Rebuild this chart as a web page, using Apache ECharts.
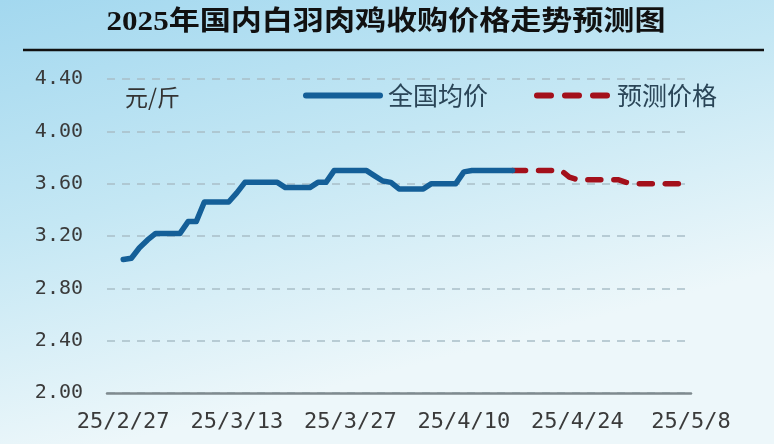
<!DOCTYPE html>
<html>
<head>
<meta charset="utf-8">
<script src="https://cdn.jsdelivr.net/npm/echarts@6/dist/echarts.min.js"></script>
<style>
html,body{margin:0;padding:0;}
#c{width:774px;height:444px;}
</style>
</head>
<body>
<div id="c"></div>
<script>
// ---- data ----
var titleText = '2025年国内白羽肉鸡收购价格走势预测图';
var unitText = '元/斤';
var seriesNames = ['全国均价', '预测价格'];
// daily categories 2025-02-25 .. 2025-05-08
var categories = [
  '25/2/25','25/2/26','25/2/27','25/2/28',
  '25/3/1','25/3/2','25/3/3','25/3/4','25/3/5','25/3/6','25/3/7','25/3/8','25/3/9','25/3/10',
  '25/3/11','25/3/12','25/3/13','25/3/14','25/3/15','25/3/16','25/3/17','25/3/18','25/3/19','25/3/20',
  '25/3/21','25/3/22','25/3/23','25/3/24','25/3/25','25/3/26','25/3/27','25/3/28','25/3/29','25/3/30','25/3/31',
  '25/4/1','25/4/2','25/4/3','25/4/4','25/4/5','25/4/6','25/4/7','25/4/8','25/4/9','25/4/10',
  '25/4/11','25/4/12','25/4/13','25/4/14','25/4/15','25/4/16','25/4/17','25/4/18','25/4/19','25/4/20',
  '25/4/21','25/4/22','25/4/23','25/4/24','25/4/25','25/4/26','25/4/27','25/4/28','25/4/29','25/4/30',
  '25/5/1','25/5/2','25/5/3','25/5/4','25/5/5','25/5/6','25/5/7','25/5/8'
];
var tickLabels = ['25/2/27','25/3/13','25/3/27','25/4/10','25/4/24','25/5/8'];
var actualValues = [
  null, null, 3.02, 3.03, 3.11, 3.17, 3.22, 3.22, 3.22, 3.22,
  3.31, 3.31, 3.46, 3.46, 3.46, 3.46, 3.53, 3.61, 3.61, 3.61,
  3.61, 3.61, 3.57, 3.57, 3.57, 3.57, 3.61, 3.61, 3.70, 3.70,
  3.70, 3.70, 3.70, 3.66, 3.62, 3.61, 3.56, 3.56, 3.56, 3.56,
  3.60, 3.60, 3.60, 3.60, 3.69, 3.70, 3.70, 3.70, 3.70, 3.70,
  3.70
];
var forecastValues = [
  null, null, null, null, null, null, null, null, null, null,
  null, null, null, null, null, null, null, null, null, null,
  null, null, null, null, null, null, null, null, null, null,
  null, null, null, null, null, null, null, null, null, null,
  null, null, null, null, null, null, null, null, null, null,
  3.70, 3.70, 3.70, 3.70, 3.70, 3.70, 3.70, 3.65, 3.63, 3.63,
  3.63, 3.63, 3.63, 3.63, 3.61, 3.60, 3.60, 3.60, 3.60, 3.60,
  3.60, 3.60, 3.60
];
var yTicks = {min: 2.0, max: 4.4, interval: 0.4};

// ---- chart ----
var chart = echarts.init(document.getElementById('c'));
var blue = '#145f98';
var red = '#a3101b';
var option = {
  backgroundColor: {
    type: 'linear', x: 0, y: 0, x2: 0.15, y2: 1,
    colorStops: [
      {offset: 0, color: '#a3d8ef'},
      {offset: 0.5, color: '#c4e7f4'},
      {offset: 1, color: '#edf7fa'}
    ]
  },
  animation: false,
  grid: {left: 107, right: 83, top: 79, bottom: 51},
  legend: {
    left: 298, top: 78,
    itemWidth: 80, itemHeight: 6, itemGap: 46,
    textStyle: {fontFamily: 'Noto Sans CJK SC', fontSize: 25, color: '#2a4557', padding: [0, 0, 0, 0]},
    data: [
      {name: seriesNames[0], icon: 'path://M3,0h74a3,3 0 0 1 0,6h-74a3,3 0 0 1 0,-6z'},
      {name: seriesNames[1], icon: 'path://M3,0h14a3,3 0 0 1 0,6h-14a3,3 0 0 1 0,-6z M31,0h14a3,3 0 0 1 0,6h-14a3,3 0 0 1 0,-6z M59,0h14a3,3 0 0 1 0,6h-14a3,3 0 0 1 0,-6z'}
    ]
  },
  xAxis: {
    type: 'category',
    data: categories,
    boundaryGap: false,
    axisLine: {lineStyle: {color: '#7f8a8f', width: 2.5}},
    axisTick: {show: false},
    axisLabel: {
      interval: function (i, v) { return tickLabels.indexOf(v) >= 0; },
      fontFamily: 'DejaVu Sans Mono', fontSize: 22, color: '#3a3a3a', margin: 18,
      showMaxLabel: true
    },
    splitLine: {show: false}
  },
  yAxis: {
    type: 'value',
    min: yTicks.min, max: yTicks.max, interval: yTicks.interval,
    axisLine: {show: false},
    axisTick: {show: false},
    axisLabel: {
      formatter: function (v) { return v.toFixed(2); },
      fontFamily: 'DejaVu Sans Mono', fontSize: 20, color: '#3a3a3a', margin: 24
    },
    splitLine: {lineStyle: {color: '#a9bfc8', width: 1.5, type: [8, 7]}}
  },
  series: [
    {
      name: seriesNames[0], type: 'line', data: actualValues,
      symbol: 'none', connectNulls: false,
      lineStyle: {color: blue, width: 5.5, cap: 'round', join: 'round'},
      itemStyle: {color: blue}, z: 3
    },
    {
      name: seriesNames[1], type: 'line', data: forecastValues,
      symbol: 'none',
      lineStyle: {color: red, width: 5.5, type: [13, 13], cap: 'round', join: 'round'},
      itemStyle: {color: red}, z: 2
    }
  ],
  graphic: [
    {
      type: 'text', x: 386, y: 23, scaleX: 1.15,
      style: {
        text: titleText, textAlign: 'center', textVerticalAlign: 'middle',
        fontFamily: "'Liberation Serif', 'Noto Sans CJK SC'", fontWeight: 'bold',
        fontSize: 27, fill: '#111'
      }
    },
    {
      type: 'line', shape: {x1: 23, y1: 50, x2: 764, y2: 50},
      style: {stroke: '#111', lineWidth: 2.5}
    },
    {
      type: 'text', x: 125, y: 97,
      style: {
        text: unitText, textAlign: 'left', textVerticalAlign: 'middle',
        fontFamily: 'Noto Sans CJK SC', fontSize: 23, fill: '#333'
      }
    }
  ]
};
chart.setOption(option);
</script>
</body>
</html>
